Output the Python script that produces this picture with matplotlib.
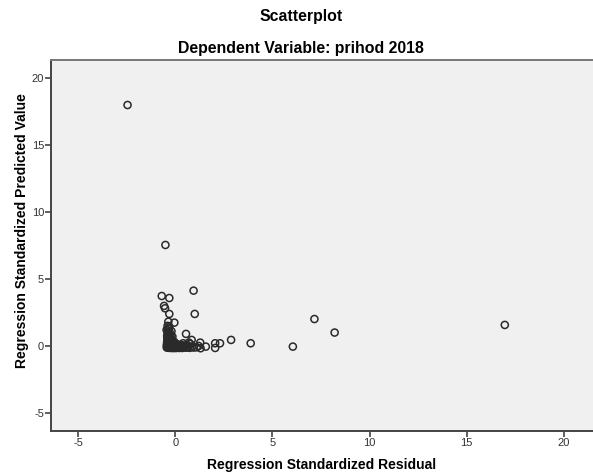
import matplotlib
matplotlib.use('Agg')
import matplotlib.pyplot as plt

plt.rcParams['font.family'] = ['Liberation Sans', 'DejaVu Sans']
plt.rcParams['axes.unicode_minus'] = False

# outlying cases (residual, predicted)
out_x = [-2.46, -0.51, -0.70, -0.31, 0.94, -0.58, -0.53, -0.31, 1.00,
         -0.36, -0.05, -0.31, 0.55, 0.84, 0.77, 1.28, 1.30, 1.57, 2.05,
         2.05, 2.30, 2.87, 3.88, 6.05, 7.16, 8.20, 16.96]
out_y = [17.99, 7.54, 3.73, 3.58, 4.13, 2.99, 2.81, 2.39, 2.39,
         1.81, 1.74, 1.44, 0.90, 0.45, 0.15, 0.25, -0.17, -0.05, 0.20,
         -0.15, 0.20, 0.45, 0.20, -0.05, 2.01, 1.00, 1.57]

# dense cluster near the origin
dense_x = [-0.40, -0.35, -0.38, -0.30, -0.40, -0.33, -0.25, -0.42, -0.36,
           -0.28, -0.20, -0.40, -0.33, -0.25, -0.15, -0.42, -0.35, -0.27,
           -0.18, -0.10, -0.43, -0.36, -0.28, -0.20, -0.12, -0.04, -0.44,
           -0.37, -0.30, -0.22, -0.14, -0.06, 0.02, -0.44, -0.36, -0.28,
           -0.20, -0.12, -0.04, 0.05, 0.12, 0.20, 0.28, 0.35, 0.45, 0.55,
           0.65, 0.75, 0.10, 0.18, 0.28, 0.38, 0.50, 0.60, 0.85, 0.95,
           1.10, 1.20, 0.40, 0.70, -0.45, -0.20, -0.15, -0.05, 0.05, 0.15,
           -0.30, -0.22, -0.38, -0.10, 0.00, 0.08, 0.22, 0.32, -0.41, -0.34]
dense_y = [1.50, 1.30, 1.15, 1.05, 0.95, 0.85, 0.80, 0.75, 0.65,
           0.60, 0.55, 0.50, 0.45, 0.40, 0.38, 0.32, 0.28, 0.25,
           0.22, 0.20, 0.15, 0.12, 0.10, 0.08, 0.06, 0.05, 0.00,
           -0.02, -0.04, -0.05, -0.06, -0.08, -0.08, -0.12, -0.14, -0.14,
           -0.15, -0.15, -0.15, -0.15, -0.12, -0.15, -0.12, -0.15, -0.10, -0.13,
           -0.10, -0.14, -0.02, 0.00, 0.02, 0.05, 0.00, 0.05, -0.05, -0.12,
           -0.10, 0.00, 0.20, 0.25, 1.20, 1.10, 0.70, 0.30, 0.12, 0.10,
           0.35, 0.30, 0.05, 0.10, 0.00, -0.05, -0.08, -0.02, 0.60, 0.90]

fig = plt.figure(figsize=(5.93, 4.75), dpi=100)
ax = fig.add_axes([51 / 593, 44 / 475, 542 / 593, 371 / 475])
ax.set_facecolor('#f0f0f0')

x = out_x + dense_x
y = out_y + dense_y
ax.scatter(x, y, s=26, facecolors='none', edgecolors='#2a2a2a', linewidths=1.1)

ax.set_xlim(-6.4, 21.5)
ax.set_ylim(-6.35, 21.35)
ax.set_xticks([-5, 0, 5, 10, 15, 20])
ax.set_yticks([-5, 0, 5, 10, 15, 20])

for s in ['left', 'bottom']:
    ax.spines[s].set_color('#444444')
    ax.spines[s].set_linewidth(1.4)
ax.spines['top'].set_color('#777777')
ax.spines['top'].set_linewidth(1.4)
ax.spines['right'].set_visible(False)
ax.tick_params(direction='out', length=4, width=1.2, color='#444444',
               labelsize=8, labelcolor='#333333', pad=1)

ax.set_xlabel('Regression Standardized Residual', fontsize=10,
              fontweight='bold', labelpad=7)
ax.set_ylabel('Regression Standardized Predicted Value', fontsize=10,
              fontweight='bold')
ax.yaxis.set_label_coords(-0.04, 0.539)

fig.text(301 / 593, 1 - 17 / 475, 'Scatterplot', ha='center', va='center',
         fontsize=11.4, fontweight='bold')
fig.text(301 / 593, 1 - 48 / 475, 'Dependent Variable: prihod 2018',
         ha='center', va='center', fontsize=11.4, fontweight='bold')

fig.savefig('out.png', dpi=100)
